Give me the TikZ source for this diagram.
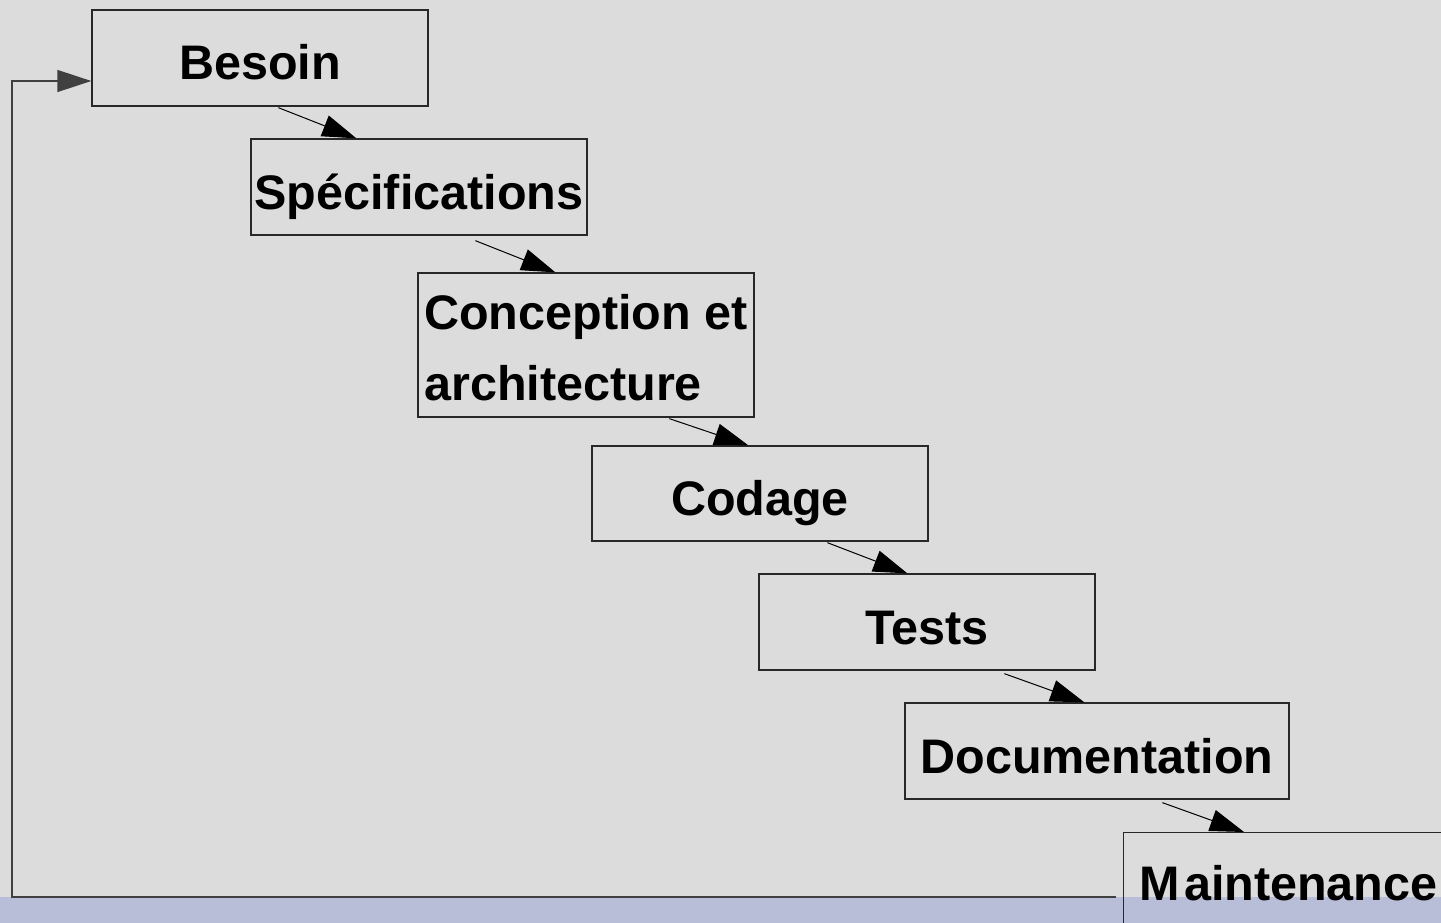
\documentclass[tikz,border=0pt]{standalone}
\usepackage{fontspec}
\setmainfont{Liberation Sans}
\usetikzlibrary{arrows.meta}
\definecolor{bgpage}{RGB}{220,220,220}
\definecolor{bgstrip}{RGB}{185,190,216}
\definecolor{edge}{RGB}{40,40,40}
\tikzset{
  phase/.style={draw=edge, line width=1.3pt, rectangle, inner sep=0pt,
    font=\fontsize{48.5}{58}\selectfont\bfseries},
  oneline/.style={phase, text height=44pt, text depth=0pt},
  flow/.style={line width=1pt, -{Triangle[length=34pt,width=22pt]}},
  loopback/.style={draw=black!75, line width=1.3pt, -{Triangle[length=34pt,width=22pt]}}
}
\begin{document}
\begin{tikzpicture}[x=1pt,y=-1pt]
  \useasboundingbox (0,0) rectangle (1441,923);
  \clip (0,0) rectangle (1441,923);
  % page background and bottom band
  \fill[bgpage] (0,0) rectangle (1441,923);
  \fill[bgstrip] (0,897) rectangle (1441,923);

  % phases of the waterfall
  \node[oneline, minimum width=336pt, minimum height=96pt] (besoin) at (260,58) {Besoin};
  \node[oneline, minimum width=336pt, minimum height=96pt] (spec) at (419,187) {Spécifications};
  \node[phase, minimum width=336pt, minimum height=144pt, text height=40pt, text depth=72pt]
    (conc) at (586,345)
    {\vtop{\baselineskip=71pt\hbox{Conception et}\hbox{architecture}}};
  \node[oneline, minimum width=336pt, minimum height=95pt] (codage) at (760,493.5) {Codage};
  \node[oneline, minimum width=336pt, minimum height=96pt] (tests) at (927,622) {Tests};
  \node[oneline, minimum width=384pt, minimum height=96pt] (doc) at (1097,751) {Documentation};
  \node[phase, anchor=north west, inner xsep=16pt, text height=68pt, text depth=60pt]
    (maint) at (1123,832) {M\kern4pt aintenance};

  % cascade arrows
  \draw[flow] ([xshift=187pt,yshift=-1pt]besoin.south west) -- ([xshift=106pt]spec.north west);
  \draw[flow] ([xshift=225pt,yshift=-5pt]spec.south west) -- ([xshift=138pt]conc.north west);
  \draw[flow] ([xshift=252pt,yshift=-1pt]conc.south west) -- ([xshift=157pt]codage.north west);
  \draw[flow] ([xshift=236pt,yshift=-1pt]codage.south west) -- ([xshift=149pt]tests.north west);
  \draw[flow] ([xshift=246pt,yshift=-3pt]tests.south west) -- ([xshift=180pt]doc.north west);
  \draw[flow] ([xshift=258pt,yshift=-3pt]doc.south west) -- ([xshift=121pt]maint.north west);

  % feedback loop from maintenance back to the needs
  \coordinate (loopstart) at (1116,897);
  \draw[loopback] (loopstart) -- (12,897) |- ([yshift=-23pt]besoin.west);
\end{tikzpicture}
\end{document}
